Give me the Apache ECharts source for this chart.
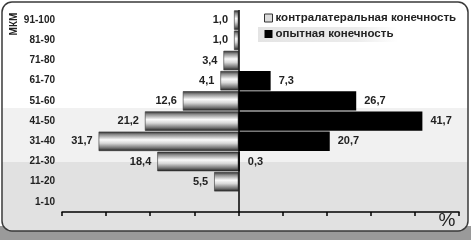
<!DOCTYPE html>
<html><head><meta charset="utf-8">
<script src="https://cdn.jsdelivr.net/npm/echarts@6/dist/echarts.min.js"></script>
<style>html,body{margin:0;padding:0;background:#fff}#c{width:471px;height:240px}</style>
</head><body><div id="c"></div>
<script>
var categories = ['1-10','11-20','21-30','31-40','41-50','51-60','61-70','71-80','81-90','91-100'];
var contralateral = [null, 5.5, 18.4, 31.7, 21.2, 12.6, 4.1, 3.4, 1.0, 1.0];
var experimental = [null, null, 0.3, 20.7, 41.7, 26.7, 7.3, null, null, null];
var seriesNames = ['контралатеральная конечность', 'опытная конечность'];
var xTicks = [-40, 50, 10];

var chart = echarts.init(document.getElementById('c'), null, {renderer: 'canvas'});
function fmt(p){ var v = Math.abs(p.value); return v.toFixed(1).replace('.', ','); }
var greyGrad = new echarts.graphic.LinearGradient(0, 0, 0, 1, [
  {offset: 0, color: '#2a2a2a'},
  {offset: 0.15, color: '#8a8a8a'},
  {offset: 0.42, color: '#fbfbfb'},
  {offset: 0.6, color: '#d8d8d8'},
  {offset: 0.85, color: '#707070'},
  {offset: 1, color: '#1e1e1e'}
]);
var font = 'Liberation Sans, Arial, sans-serif';
chart.setOption({
  animation: false,
  backgroundColor: '#fff',
  textStyle: {fontFamily: font},
  graphic: [
    {type: 'rect', z: -10, shape: {x: 0, y: 226, width: 471, height: 14}, style: {fill: '#9a9a9a'}},
    {type: 'rect', z: -9, shape: {x: 2, y: 2, width: 466, height: 229, r: 10}, style: {fill: '#ffffff'}},
    {type: 'rect', z: -8, shape: {x: 2, y: 108, width: 466, height: 54}, style: {fill: '#f1f1f1'}},
    {type: 'rect', z: -8, shape: {x: 2, y: 162, width: 466, height: 69, r: [0, 0, 10, 10]}, style: {fill: '#e1e1e1'}},
    {type: 'rect', z: -7, shape: {x: 258, y: 27, width: 140, height: 15}, style: {fill: new echarts.graphic.LinearGradient(0,0,1,0,[{offset:0,color:'#e4e4e4'},{offset:0.7,color:'#ececec'},{offset:1,color:'#ffffff'}])}},
    {type: 'rect', z: 100, shape: {x: 2, y: 2, width: 466, height: 229, r: 10}, style: {fill: 'none', stroke: '#3a3a3a', lineWidth: 1.5}},
    {type: 'text', z: 100, x: 14, y: 24, rotation: Math.PI / 2, style: {text: 'МКМ', fontFamily: font, fontWeight: 'bold', fontSize: 10, fill: '#222', align: 'center', verticalAlign: 'middle'}},
    {type: 'text', z: 100, x: 447, y: 221, style: {text: '%', fontFamily: font, fontSize: 19, fill: '#222', align: 'center', verticalAlign: 'middle'}}
  ],
  legend: {
    orient: 'vertical', left: 259, top: 7, itemWidth: 8, itemHeight: 8, itemGap: 4,
    textStyle: {fontFamily: font, fontWeight: 'bold', fontSize: 11.5, color: '#222', padding: [0,0,0,-2]},
    data: [
      {name: seriesNames[0], icon: 'rect', itemStyle: {color: '#dcdcdc', borderColor: '#333', borderWidth: 1}},
      {name: seriesNames[1], icon: 'rect', itemStyle: {color: '#000'}}
    ]
  },
  grid: {left: 62, right: 12, top: 10, bottom: 28},
  xAxis: {
    type: 'value', min: xTicks[0], max: xTicks[1], interval: xTicks[2],
    axisLine: {show: true, lineStyle: {color: '#000', width: 1.5}},
    axisTick: {show: true, length: 4, lineStyle: {color: '#000', width: 1.5}},
    axisLabel: {show: false}, splitLine: {show: false}
  },
  yAxis: {
    type: 'category', data: categories,
    axisLine: {show: false}, axisTick: {show: false},
    axisLabel: {margin: 7, fontFamily: font, fontWeight: 'bold', fontSize: 10, color: '#222'}
  },
  series: [
    {
      name: seriesNames[0], type: 'bar', barCategoryGap: '4%', barGap: '-100%',
      data: contralateral.map(function(v){ return v == null ? null : -v; }),
      itemStyle: {color: greyGrad, borderColor: '#333', borderWidth: 0.6},
      label: {show: true, position: 'left', distance: 6, formatter: fmt, fontFamily: font, fontWeight: 'bold', fontSize: 11, color: '#222'}
    },
    {
      name: seriesNames[1], type: 'bar', barCategoryGap: '4%', barGap: '-100%',
      data: experimental,
      itemStyle: {color: '#000'},
      label: {show: true, position: 'right', distance: 8, formatter: fmt, fontFamily: font, fontWeight: 'bold', fontSize: 11, color: '#222'},
      markLine: {silent: true, symbol: 'none', label: {show: false}, lineStyle: {color: '#000', width: 1.5, type: 'solid'}, data: [{xAxis: 0}]}
    }
  ]
});
</script></body></html>
